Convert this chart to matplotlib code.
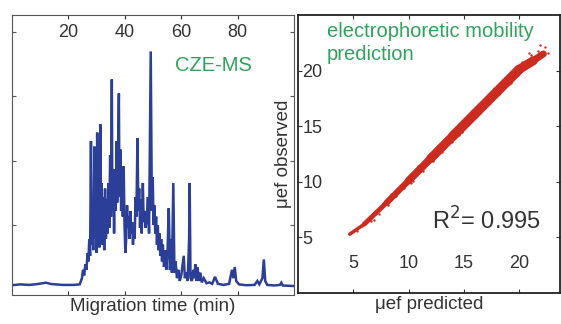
import numpy as np
import matplotlib
matplotlib.use("Agg")
import matplotlib.pyplot as plt

plt.rcParams["font.family"] = ["Liberation Sans", "DejaVu Sans"]

# ============================================================
# DATA
# ============================================================
# electropherogram: migration time (min) vs intensity (a.u.)
trace_t = [0, 3, 6, 9, 12, 14, 18, 22, 24, 24.8, 25.2, 25.6, 26.0, 26.4, 26.8, 27.1,
           27.4, 27.7, 28.0, 28.2, 28.5, 28.8, 29.2, 29.4, 29.7, 30.0, 30.2, 30.4, 30.7,
           31.0, 31.3, 31.5, 31.8, 32.1, 32.4, 32.7, 33.0, 33.3, 33.6, 33.9, 34.2, 34.5,
           34.8, 35.1, 35.4, 35.6, 35.9, 36.2, 36.5, 36.8, 37.1, 37.3, 37.6, 37.9, 38.1,
           38.4, 38.7, 39.0, 39.3, 39.6, 39.9, 40.2, 40.5, 40.8, 41.1, 41.4, 41.7, 42.0,
           42.3, 42.6, 42.9, 43.2, 43.5, 43.8, 44.1, 44.5, 44.8, 45.1, 45.4, 45.7, 46.0,
           46.4, 46.7, 47.0, 47.4, 47.8, 48.2, 48.6, 49.2, 49.6, 49.9, 50.2, 50.5, 50.8,
           51.1, 51.4, 51.7, 52.0, 52.3, 52.6, 52.9, 53.2, 53.5, 53.9, 54.3, 54.7, 55.1,
           55.6, 56.0, 56.4, 56.7, 57.2, 57.6, 58.0, 58.5, 59.0, 59.5, 60.0, 60.5, 60.9,
           61.3, 61.8, 62.3, 62.8, 63.0, 63.3, 63.8, 64.3, 64.7, 65.0, 65.4, 65.8, 66.3,
           66.8, 67.3, 68, 69, 70, 71, 72, 73, 75, 77, 78, 78.5, 79, 79.5, 80.5, 83, 86,
           87, 87.7, 88.8, 89.3, 89.8, 90.5, 93, 95, 95.5, 96, 100]
trace_h = [3.5, 3.8, 3.6, 3.9, 4.4, 3.9, 3.6, 3.6, 3.8, 6, 9, 7, 11, 9, 15, 12,
           20, 14, 55, 18, 30, 16, 53, 20, 38, 15, 58, 22, 45,
           17, 61, 25, 40, 18, 35, 16, 38, 20, 34, 22, 40, 24,
           50, 28, 77, 30, 42, 22, 45, 30, 55, 33, 48, 72, 35,
           52, 30, 45, 28, 46, 25, 15, 20, 32, 24, 28, 20, 30,
           22, 26, 18, 24, 20, 35, 28, 56, 30, 38, 24, 34, 22,
           40, 26, 30, 24, 28, 35, 22, 87, 30, 42, 25, 32, 22,
           28, 18, 25, 16, 22, 14, 20, 12, 18, 10, 16, 9, 14,
           31, 9, 20, 8, 40, 8, 12, 6, 9, 5, 7, 11, 14,
           6, 8, 5, 20, 40, 6, 5, 9, 6, 11, 5, 10, 5,
           8, 4.5, 6, 4.2, 4.5, 4, 6.5, 4, 3.6, 4, 9, 6, 10, 5, 3.8, 3.5, 3.6,
           5, 3.8, 6, 12.7, 5, 3.6, 3.4, 3.6, 4.4, 3.4, 3.2]
time_ticks = [20, 40, 60, 80]
intensity_ticks = [25, 48, 71, 94]

# mobility prediction: dense band core + scattered points
band_pred = [4.7, 6.0, 8.0, 10.0, 12.0, 14.0, 16.0, 18.0, 20.0, 21.3, 22.2]
band_obs = [5.3, 6.2, 8.1, 10.1, 12.1, 14.1, 16.1, 18.1, 20.1, 20.9, 21.5]
pts_pred = [4.6, 5.3, 5.8, 6.2, 6.6, 7.0, 7.3, 7.7, 8.1, 8.4, 8.9, 9.2, 9.6, 10.0,
            10.4, 10.9, 11.3, 11.7, 12.2, 12.6, 13.0, 13.5, 13.9, 14.3, 14.8, 15.2,
            15.6, 16.1, 16.5, 16.9, 17.4, 17.8, 18.2, 18.7, 19.1, 19.5, 19.9, 20.3,
            20.7, 21.1, 21.4, 21.7, 22.0, 22.3, 22.6, 21.9, 20.9, 19.3, 17.0, 14.6,
            12.4, 10.2, 8.6, 6.9]
pts_obs = [5.3, 5.6, 6.0, 6.6, 6.5, 7.4, 7.1, 8.1, 7.9, 8.9, 8.7, 9.6, 9.4, 10.4,
           10.1, 11.4, 11.0, 12.1, 11.9, 13.1, 12.7, 13.9, 13.6, 14.8, 14.5, 15.7,
           15.3, 16.6, 16.2, 17.4, 17.1, 18.3, 17.9, 19.2, 18.8, 20.0, 19.6, 20.8,
           20.4, 21.4, 20.9, 21.8, 21.3, 22.1, 21.6, 22.3, 21.6, 18.9, 17.5, 14.2,
           12.9, 9.9, 8.9, 6.6]
mob_ticks = [5, 10, 15, 20]
r2_text = r"R$^2$= 0.995"

# ============================================================
# STYLE
# ============================================================
BLUE = "#2b3f98"
RED = "#cc2b1f"
GREEN = "#2fa35c"
band_widths = [2.5, 3.5, 4.5, 5.5, 6.5, 7.0, 7.0, 7.0, 6.5, 5.0]

fig = plt.figure(figsize=(5.61, 3.24), dpi=100)

# ---- left panel: CZE-MS electropherogram
ax1 = fig.add_axes([12 / 561, 29 / 324, 282 / 561, 280 / 324])
ax1.plot(trace_t, trace_h, color=BLUE, lw=1.8, solid_joinstyle="miter")
ax1.set_xlim(0, 100)
ax1.set_ylim(0, 100)
ax1.set_xticks(time_ticks)
ax1.set_yticks(intensity_ticks)
ax1.set_yticklabels([])
ax1.tick_params(axis="x", which="both", direction="in", top=True, bottom=True,
                labeltop=True, labelbottom=False, pad=-19, labelsize=13,
                colors="#333333", length=3)
ax1.tick_params(axis="y", direction="in", left=True, right=True, length=3,
                colors="#555555")
for s in ax1.spines.values():
    s.set_color("#555555")
    s.set_linewidth(0.8)
ax1.set_xlabel("Migration time (min)", fontsize=13.5, color="#333333", labelpad=2)
ax1.text(0.578, 0.82, "CZE-MS", transform=ax1.transAxes, color=GREEN,
         fontsize=14.5, va="center", ha="left")

# ---- right panel: mobility prediction
ax2 = fig.add_axes([298 / 561, 31 / 324, 262 / 561, 278 / 324])
for i in range(len(band_pred) - 1):
    ax2.plot(band_pred[i:i + 2], band_obs[i:i + 2], color=RED,
             lw=band_widths[i], solid_capstyle="round")
ax2.scatter(pts_pred, pts_obs, s=3, color=RED, linewidths=0)
ax2.set_xlim(0, 23.7)
ax2.set_ylim(0, 25)
ax2.set_xticks(mob_ticks)
ax2.set_yticks(mob_ticks)
ax2.tick_params(axis="both", direction="in", top=True, right=True, length=3,
                labelsize=13, colors="#333333")
ax2.tick_params(axis="x", pad=-15)
ax2.tick_params(axis="y", pad=-3)
for lab in ax2.get_yticklabels():
    lab.set_horizontalalignment("left")
for lab in ax2.get_xticklabels():
    lab.set_verticalalignment("bottom")
for s in ax2.spines.values():
    s.set_color("#222222")
    s.set_linewidth(1.3)
ax2.set_xlabel("\u03bcef predicted", fontsize=13.5, color="#333333", labelpad=2)
ax2.set_ylabel("\u03bcef observed", fontsize=13.5, color="#333333", labelpad=4)
ax2.text(0.11, 0.975, "electrophoretic mobility\nprediction", transform=ax2.transAxes,
         color=GREEN, fontsize=14.5, va="top", ha="left", linespacing=1.25)
ax2.text(0.51, 0.26, r2_text, transform=ax2.transAxes, color="#333333",
         fontsize=17, va="center", ha="left")

fig.savefig("out.png", dpi=100)
